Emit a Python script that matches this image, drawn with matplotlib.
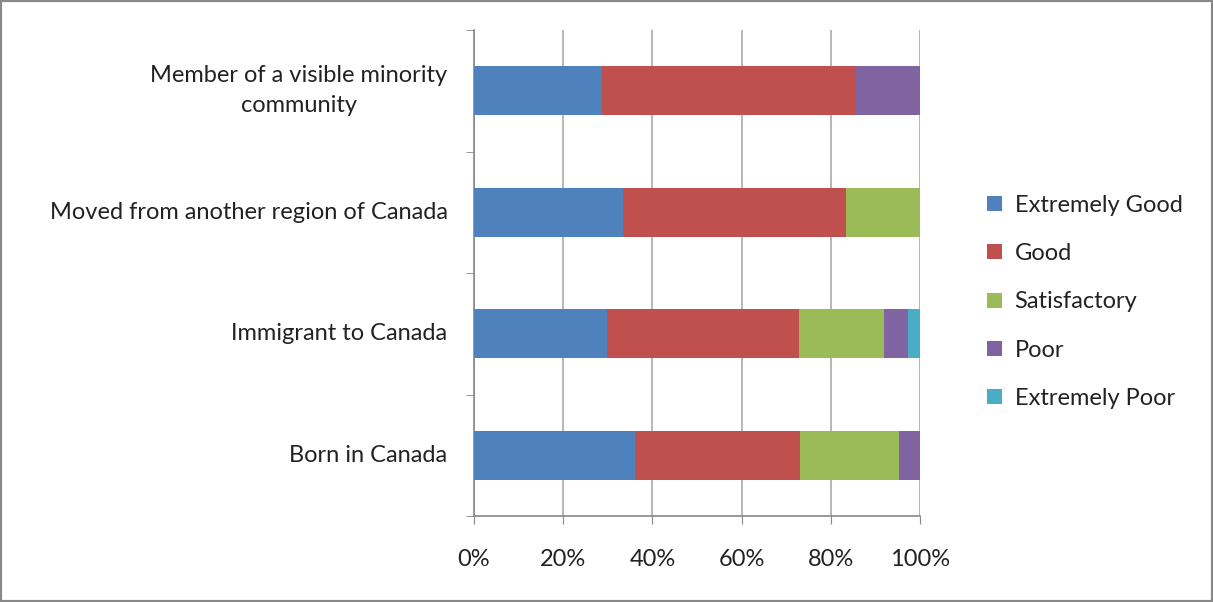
import matplotlib
matplotlib.use("Agg")
import matplotlib.pyplot as plt
from matplotlib.patches import Rectangle
import numpy as np

categories = ["Born in Canada", "Immigrant to Canada",
              "Moved from another region of Canada",
              "Member of a visible minority\ncommunity"]
series = ["Extremely Good", "Good", "Satisfactory", "Poor", "Extremely Poor"]
extremely_good = [36.1, 29.7, 33.3, 28.6]
good = [37.0, 43.2, 50.0, 57.1]
satisfactory = [22.1, 18.9, 16.7, 0.0]
poor = [4.8, 5.4, 0.0, 14.3]
extremely_poor = [0.0, 2.7, 0.0, 0.0]
colors = ["#4F81BD", "#C0504D", "#9BBB59", "#8064A2", "#4BACC6"]
tick_labels = ["0%", "20%", "40%", "60%", "80%", "100%"]

plt.rcParams['font.family'] = ['Lato', 'DejaVu Sans']
FS = 17

fig = plt.figure(figsize=(12.13, 6.02), dpi=100)
W, H = 1213, 602
ax = fig.add_axes([474 / W, 1 - 516 / H, (920 - 474) / W, (516 - 30) / H])

data = [extremely_good, good, satisfactory, poor, extremely_poor]
y = np.arange(len(categories))
left = np.zeros(len(categories))
totals = np.sum(data, axis=0)
for vals, name, c in zip(data, series, colors):
    pct = np.array(vals) / totals * 100
    ax.barh(y, pct, left=left, height=0.4, color=c, label=name, zorder=3)
    left += pct

ax.set_xlim(0, 100)
ax.set_ylim(-0.5, len(categories) - 0.5)
ax.set_xticks(np.arange(0, 101, 20))
ax.set_xticklabels(tick_labels, fontsize=FS, color="#222222")
ax.set_yticks(y)
ax.set_yticklabels(categories, fontsize=FS, color="#222222", linespacing=1.5)
ax.set_yticks(np.arange(-0.5, len(categories), 1), minor=True)
ax.tick_params(axis='y', which='major', length=0, pad=19)
ax.tick_params(axis='y', which='minor', length=6, color="#888888", direction='out')
ax.tick_params(axis='x', length=6, color="#888888", direction='out', pad=18)
for lbl in ax.get_yticklabels():
    lbl.set_horizontalalignment('right')
    lbl.set_multialignment('center')
    lbl.set_verticalalignment('center')
ax.grid(axis='x', color="#AAAAAA", linewidth=1.2, zorder=0)
for s in ["top", "right"]:
    ax.spines[s].set_visible(False)
for s in ["left", "bottom"]:
    ax.spines[s].set_color("#888888")
    ax.spines[s].set_linewidth(1.2)

leg = fig.legend(loc="center left", bbox_to_anchor=(978 / W, 1 - 302 / H),
                 frameon=False, fontsize=FS, handlelength=0.6, handleheight=0.6,
                 labelspacing=1.16, handletextpad=0.55, borderaxespad=0)
for t in leg.get_texts():
    t.set_color("#222222")

fig.patches.append(Rectangle((0, 0), 1, 1, transform=fig.transFigure,
                             fill=False, edgecolor="#888888", linewidth=3))
fig.savefig("out.png", dpi=100)
